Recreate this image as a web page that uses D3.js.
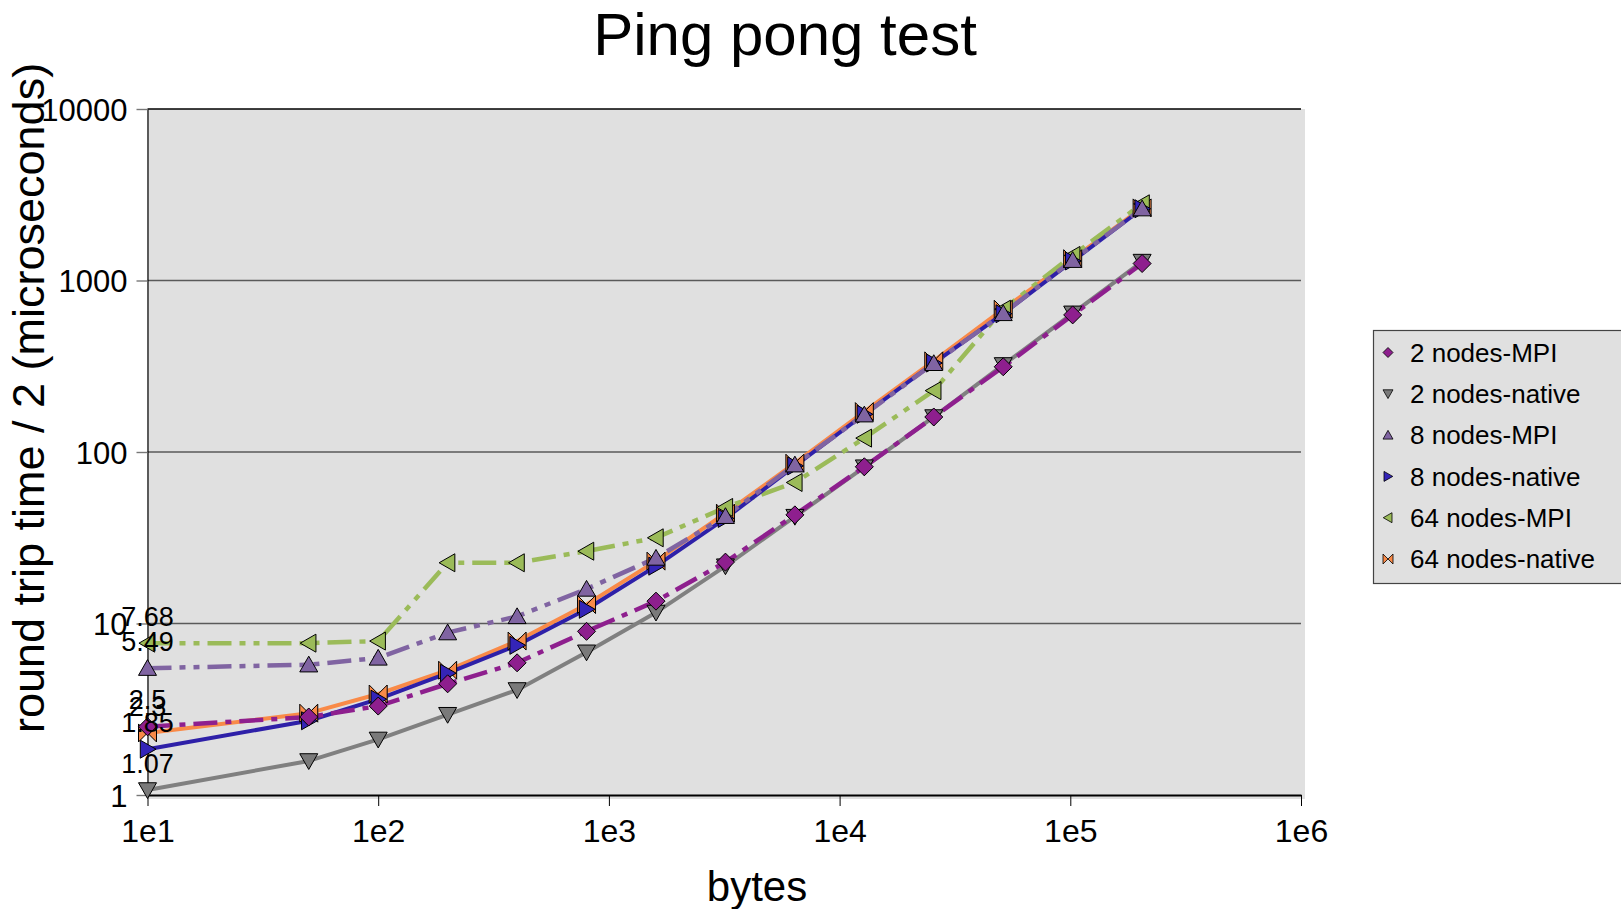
<!DOCTYPE html>
<html><head><meta charset="utf-8">
<script src="https://cdn.jsdelivr.net/npm/d3@7"></script>
<style>
body{margin:0;background:#fff;}
text{font-family:"Liberation Sans",Arial,sans-serif;fill:#000;}
</style>
</head><body>
<svg id="c" width="1621" height="909"></svg>
<script>
// ---- data ----
const bytes = [10, 50, 100, 200, 400, 800, 1600, 3200, 6400, 12800, 25600, 51200, 102400, 204800];
const seriesNames = ["2 nodes-MPI", "2 nodes-native", "8 nodes-MPI", "8 nodes-native", "64 nodes-MPI", "64 nodes-native"];
const mpi2     = [2.5, 2.85, 3.3, 4.45, 5.9, 9.0, 13.5, 22.8, 43, 82, 160, 314, 630, 1256];
const native2  = [1.07, 1.58, 2.11, 2.94, 4.1, 6.8, 11.6, 21.6, 42, 81.6, 160, 322, 644, 1290];
const mpi8     = [5.49, 5.75, 6.3, 8.85, 11.0, 15.9, 24.1, 42.2, 84.3, 165, 329, 643, 1313, 2624];
const native8  = [1.85, 2.71, 3.62, 5.13, 7.46, 12.1, 21.6, 41, 83, 166, 330, 640, 1300, 2620];
const mpi64    = [7.68, 7.68, 7.9, 22.6, 22.6, 26.4, 31.6, 47.5, 66.4, 120.5, 228, 680, 1400, 2800];
const native64 = [2.3, 3.0, 3.88, 5.34, 7.9, 12.9, 23.1, 44, 86, 172, 340, 680, 1340, 2650];
const firstLabels = ["2.5", "2.3", "5.49", "1.85", "7.68", "1.07"];
const labelOrder = [0, 5, 2, 3, 4, 1]; // series index for each label above
const yTickValues = [1, 10, 100, 1000, 10000];
const xTickValues = [1e1, 1e2, 1e3, 1e4, 1e5, 1e6];
const xTickLabels = ["1e1", "1e2", "1e3", "1e4", "1e5", "1e6"];
const titleText = "Ping pong test";
const xTitle = "bytes";
const yTitle = "round trip time / 2 (microseconds)";

// ---- styles ----
const seriesValues = [mpi2, native2, mpi8, native8, mpi64, native64];
const colors = ["#8E1F8E", "#808080", "#8064A2", "#2E20A8", "#9BBB59", "#F98A48"];
const markerFill = ["#8E1F8E", "#7A7A7A", "#8064A2", "#3424B8", "#9BBB59", "#F98A48"];
const dashes = ["24,8,6,8", null, "24,8,6,8,6,8", null, "24,8,6,8,6,8", null];
const widths = [4.5, 4, 4.5, 4, 4.5, 4];
const markerTypes = ["diamond", "down", "up", "right", "left", "bowtie"];

function markerPath(t, s) {
  switch (t) {
    case "diamond": return `M0,${-s}L${s},0L0,${s}L${-s},0Z`;
    case "down": return `M${-s},${-s*0.8}L${s},${-s*0.8}L0,${s*0.95}Z`;
    case "up": return `M${-s},${s*0.8}L${s},${s*0.8}L0,${-s*0.95}Z`;
    case "right": return `M${-s*0.8},${-s}L${-s*0.8},${s}L${s*0.95},0Z`;
    case "left": return `M${s*0.8},${-s}L${s*0.8},${s}L${-s*0.95},0Z`;
    case "bowtie": return `M${-s},${-s}L0,0L${-s},${s}ZM${s},${-s}L0,0L${s},${s}Z`;
  }
}

const svg = d3.select("#c");
const x = d3.scaleLog().domain([10, 1e6]).range([147.5, 1301]);
const y = d3.scaleLog().domain([1, 1e4]).range([795, 109]);

// plot background
svg.append("rect").attr("x", 147).attr("y", 109).attr("width", 1305 - 147).attr("height", 799 - 109).attr("fill", "#e0e0e0");

// gridlines
svg.append("g").selectAll("line").data(yTickValues.slice(1)).join("line")
  .attr("x1", x(10)).attr("x2", x(1e6))
  .attr("y1", d => y(d)).attr("y2", d => y(d))
  .attr("stroke", d => d === 10000 ? "#000" : "#5a5a5a")
  .attr("stroke-width", d => d === 10000 ? 1.6 : 1.4);

// axes
const xAxis = d3.axisBottom(x).tickValues(xTickValues).tickFormat((d, i) => xTickLabels[i]).tickSize(11).tickPadding(13).tickSizeOuter(0);
const gx = svg.append("g").attr("transform", `translate(0,${y(1)})`).call(xAxis);
gx.select(".domain").attr("stroke", "#000").attr("stroke-width", 2.2);
gx.selectAll(".tick line").attr("stroke", "#000").attr("stroke-width", 1);
gx.selectAll(".tick text").attr("font-size", 32).attr("font-family", "Liberation Sans, Arial, sans-serif").attr("fill", "#000");

const yAxis = d3.axisLeft(y).tickValues(yTickValues).tickFormat(d3.format("d")).tickSize(11).tickPadding(9).tickSizeOuter(0);
const gy = svg.append("g").attr("transform", `translate(${x(10)},0)`).call(yAxis);
gy.select(".domain").attr("stroke", "#000").attr("stroke-width", 1.2);
gy.selectAll(".tick line").attr("stroke", "#777").attr("stroke-width", 1.4);
gy.selectAll(".tick text").attr("font-size", 31).attr("font-family", "Liberation Sans, Arial, sans-serif").attr("fill", "#000").attr("dy", "0.36em");

// lines
const line = d3.line().x((d, i) => x(bytes[i])).y(d => y(d));
const order = [5, 4, 3, 2, 1, 0];
const gl = svg.append("g");
order.forEach(k => {
  gl.append("path").datum(seriesValues[k]).attr("d", line)
    .attr("fill", "none").attr("stroke", colors[k]).attr("stroke-width", widths[k])
    .attr("stroke-dasharray", dashes[k]).attr("stroke-linejoin", "round");
});
// markers
const gm = svg.append("g");
order.forEach(k => {
  gm.selectAll(null).data(seriesValues[k]).join("path")
    .attr("transform", (d, i) => `translate(${x(bytes[i])},${y(d)})`)
    .attr("d", markerPath(markerTypes[k], 9))
    .attr("fill", markerFill[k]).attr("stroke", "#000").attr("stroke-width", 1).attr("stroke-linejoin", "miter");
});

// data labels at first point
svg.append("g").selectAll("text").data(labelOrder).join("text")
  .attr("x", k => x(bytes[0]))
  .attr("y", k => y(seriesValues[k][0]) - 27)
  .attr("dy", "0.36em")
  .attr("text-anchor", "middle").attr("font-size", 27)
  .text((k, i) => firstLabels[i]);

// titles
svg.append("text").attr("x", 785).attr("y", 55).attr("text-anchor", "middle").attr("font-size", 60).text(titleText);
svg.append("text").attr("x", 757).attr("y", 901).attr("text-anchor", "middle").attr("font-size", 42).text(xTitle);
svg.append("text").attr("transform", "translate(44,398) rotate(-90)").attr("text-anchor", "middle").attr("font-size", 45).text(yTitle);

// legend
const lg = svg.append("g");
lg.append("rect").attr("x", 1373.5).attr("y", 330.5).attr("width", 260).attr("height", 253).attr("fill", "#e0e0e0").attr("stroke", "#444").attr("stroke-width", 1.2);
seriesNames.forEach((name, k) => {
  const cy = 352.5 + k * 41.3;
  lg.append("path").attr("transform", `translate(1388,${cy})`).attr("d", markerPath(markerTypes[k], 5))
    .attr("fill", markerFill[k]).attr("stroke", "#000").attr("stroke-width", 0.8);
  lg.append("text").attr("x", 1410).attr("y", cy).attr("dy", "0.36em").attr("font-size", 26).text(name);
});
</script>
</body></html>
